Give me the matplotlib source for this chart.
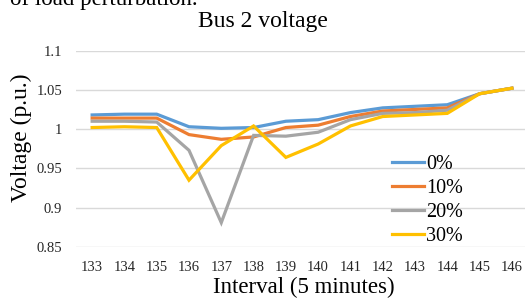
import matplotlib
matplotlib.use("Agg")
import matplotlib.pyplot as plt

plt.rcParams['font.family'] = ['Liberation Serif', 'DejaVu Serif']

intervals = [133, 134, 135, 136, 137, 138, 139, 140, 141, 142, 143, 144, 145, 146]
v0 = [1.018, 1.019, 1.019, 1.003, 1.001, 1.002, 1.010, 1.012, 1.021, 1.027, 1.029, 1.031, 1.045, 1.052]
v10 = [1.014, 1.014, 1.014, 0.993, 0.987, 0.990, 1.002, 1.005, 1.016, 1.023, 1.025, 1.027, 1.045, 1.052]
v20 = [1.010, 1.010, 1.009, 0.973, 0.881, 0.992, 0.991, 0.996, 1.012, 1.020, 1.021, 1.024, 1.045, 1.052]
v30 = [1.002, 1.003, 1.002, 0.935, 0.979, 1.004, 0.964, 0.981, 1.004, 1.016, 1.018, 1.020, 1.045, 1.052]
labels = ['0%', '10%', '20%', '30%']
colors = ['#5B9BD5', '#ED7D31', '#A5A5A5', '#FFC000']
yticks = [0.85, 0.9, 0.95, 1.0, 1.05, 1.1]
ytick_labels = ['0.85', '0.9', '0.95', '1', '1.05', '1.1']

W, H = 525, 301
fig = plt.figure(figsize=(W / 100, H / 100), dpi=100)
ax = fig.add_axes([76 / W, 1 - 247 / H, 452 / W, (247 - 50.5) / H])

xs = list(range(len(intervals)))
for series, lab, col in zip([v0, v10, v20, v30], labels, colors):
    ax.plot(xs, series, color=col, lw=2.3, label=lab, solid_joinstyle='miter')

ax.set_xlim(-0.5, len(intervals) - 0.5)
ax.set_ylim(0.85, 1.1)
ax.set_xticks(xs)
ax.set_xticklabels([str(i) for i in intervals], fontsize=10.5)
ax.set_yticks(yticks)
ax.set_yticklabels(ytick_labels, fontsize=10.5)
ax.tick_params(axis='both', length=0, colors='#262626')
ax.tick_params(axis='x', pad=10)
ax.tick_params(axis='y', pad=10)
ax.grid(axis='y', color='#D9D9D9', lw=1.0)
ax.set_axisbelow(True)
for s in ax.spines.values():
    s.set_visible(False)

fig.text(262.5 / W, 1 - 27 / H, 'Bus 2 voltage', ha='center', va='baseline', fontsize=17)
fig.text(304 / W, 1 - 293 / H, 'Interval (5 minutes)', ha='center', va='baseline', fontsize=16.5)
fig.text(21 / W, 1 - 138 / H, 'Voltage (p.u.)', ha='center', va='center', rotation=90, fontsize=17)
fig.text(10 / W, 1 - 5 / H, 'of load perturbation.', ha='left', va='baseline', fontsize=16.5)

leg = ax.legend(loc='upper left', bbox_to_anchor=(392 / W, 1 - 155 / H), bbox_transform=fig.transFigure,
                frameon=False, fontsize=14.5, handlelength=1.6, handletextpad=0.1,
                labelspacing=0.25, borderpad=0, borderaxespad=0)

fig.savefig('out.png', dpi=100)
